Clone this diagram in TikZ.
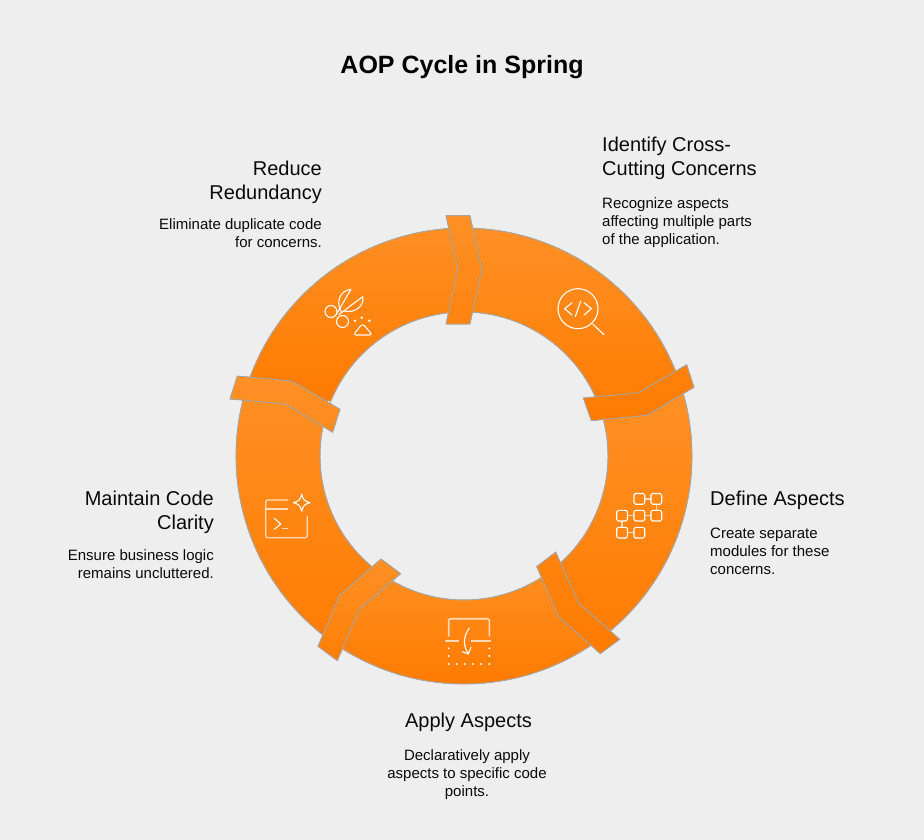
\documentclass[tikz,border=0pt]{standalone}
\usepackage{fontspec}
\setmainfont{Liberation Sans}
\definecolor{bgc}{HTML}{EEEEEE}
\definecolor{segtop}{HTML}{FF9026}
\definecolor{segbot}{HTML}{FF7B00}
\definecolor{edgec}{HTML}{A8A8A8}
\definecolor{inkc}{HTML}{0A0A0A}
\tikzset{
  edgeline/.style={draw=edgec,line width=0.9pt,line join=miter},
  icon/.style={draw=white,line width=1.1pt,line cap=round,line join=round},
  softicon/.style={draw=white,draw opacity=.7,line width=1.6pt,line join=round},
  heading/.style={inner sep=0pt,text=inkc,font=\fontsize{20}{24}\selectfont},
  bodytext/.style={inner sep=0pt,text=inkc,font=\fontsize{15}{18}\selectfont},
}
\newcommand{\gradpath}[3]{%
  \begin{scope}\clip #3;
    \fill[top color=segtop,bottom color=segbot] (0,#1) rectangle (924,#2);
  \end{scope}
  \draw[edgeline] #3;}
\newcommand{\sector}[4]{%
  \gradpath{#3}{#4}{([shift={(#1:228)}]464,456) arc[start angle=#1,end angle=#2,radius=228]
    -- ([shift={(#2:144)}]464,456) arc[start angle=#2,end angle=#1,radius=144] -- cycle}}
\newcommand{\modbox}[2]{\draw[icon,rounded corners=1.5pt] (#1,#2) rectangle ++(10.7,10.7);}
\begin{document}
\begin{tikzpicture}[x=1pt,y=-1pt]
\useasboundingbox (0,0) rectangle (924,840);
\fill[bgc] (0,0) rectangle (924,840);
% ring
\sector{-90}{-18}{228}{421}
\sector{-18}{54}{392}{654}
\sector{54}{126}{559}{684}
\sector{126}{198}{376}{660}
\sector{198}{270}{215}{400}
% connectors
\gradpath{228}{421}{(583.3,398) -- (638.7,392.7) -- (686.7,364.7) -- (694,387.3) -- (646.7,415.3) -- (591.3,420.7) -- cycle}
\gradpath{392}{654}{(555.7,552) -- (578.3,602.7) -- (619.7,639.3) -- (600.3,653.7) -- (558.7,616.7) -- (536.7,566.7) -- cycle}
\gradpath{559}{684}{(381,559) -- (400.7,573.7) -- (359.7,608.7) -- (337.3,660.7) -- (318,646.3) -- (339.3,595.7) -- cycle}
\gradpath{376}{660}{(237.3,376) -- (292,381) -- (340,409.3) -- (332.7,432.3) -- (285.3,404) -- (230,399) -- cycle}
\gradpath{215}{400}{(446,215.7) -- (470,215.7) -- (481.7,270) -- (470,324) -- (446,324) -- (457.7,270) -- cycle}
% icon: code magnifier
\draw[icon] (578,308.7) circle (20);
\draw[icon] (592.7,324) -- (604,334.7);
\draw[icon] (572,302.7) -- (564.7,308.7) -- (572,315);
\draw[icon] (584,302.7) -- (591.3,308.7) -- (584,315);
\draw[icon] (580.7,301) -- (575.3,316.7);
% icon: scissors
\draw[icon] (331,311.5) circle (6);
\draw[icon] (342.5,321.5) circle (6);
\draw[icon] (335.7,315.5) -- (351,289.3) .. controls (341,290) and (335,301) .. (341.3,311.7);
\draw[icon] (339,314.5) -- (362.7,296.7) .. controls (365,305) and (355,314) .. (344,311);
\fill[white] (355,320.7) circle (1.4) (361.7,317.7) circle (1.4) (369.3,320.7) circle (1.4);
\draw[icon,rounded corners=3pt] (362.5,323.5) -- (372.5,335) -- (353.2,335) -- cycle;
% icon: terminal with star
\draw[softicon,line width=1.3pt,rounded corners=2pt] (288.3,500) -- (265.7,500) -- (265.7,537.7) -- (307.3,537.7) -- (307.3,515.7);
\draw[softicon,line width=1.3pt] (265.7,509) -- (288.3,509);
\draw[icon] (274.3,518.3) -- (280.7,524) -- (274.3,529.3);
\draw[softicon,line width=1.3pt] (282.3,528.7) -- (288.3,528.7);
\draw[icon] (301.7,494.2) .. controls (302.8,499.5) and (305,501.6) .. (310,502.7)
  .. controls (305,503.8) and (302.8,506) .. (301.7,511.2)
  .. controls (300.6,506) and (298.4,503.8) .. (293.4,502.7)
  .. controls (298.4,501.6) and (300.6,499.5) .. (301.7,494.2) -- cycle;
% icon: apply
\draw[softicon,rounded corners=2pt] (448.7,636.7) -- (448.7,618.7) -- (489.3,618.7) -- (489.3,636.7);
\draw[softicon] (445,640.7) -- (459,640.7) (471,640.7) -- (491,640.7);
\foreach \dy in {648.3,656,664} {\fill[white] (448.7,\dy) circle (1.1) (489.3,\dy) circle (1.1);}
\foreach \dx in {456.7,464.7,473,481} {\fill[white] (\dx,664) circle (1.1);}
\draw[icon] (469.3,628.3) .. controls (463,636) and (463,646) .. (468.3,653.6);
\draw[icon] (462.3,651.7) -- (468.3,654) -- (471,647.3);
% icon: modules
\modbox{634}{493.5}\modbox{651}{493.5}
\modbox{616.7}{510.3}\modbox{634}{510.3}\modbox{651}{510.3}
\modbox{616.7}{527.3}\modbox{634}{527.3}
\draw[softicon] (644.7,498.8) -- (651,498.8) (656.3,504.2) -- (656.3,510.3)
  (627.4,515.6) -- (634,515.6) (644.7,515.6) -- (651,515.6)
  (622,521) -- (622,527.3) (627.4,532.6) -- (634,532.6);
% texts
\node[font=\fontsize{25}{29}\selectfont\bfseries,text=black,inner sep=0pt] (title) at (462,67.5) {AOP Cycle in Spring};
\node[heading,anchor=west,align=left] (h1) at (602,158) {Identify Cross-\\Cutting Concerns};
\node[bodytext,anchor=west,align=left] (b1) at (602,223) {Recognize aspects\\affecting multiple parts\\of the application.};
\node[heading,anchor=west,align=left] (h2) at (710,500) {Define Aspects};
\node[bodytext,anchor=west,align=left] (b2) at (710,551) {Create separate\\modules for these\\concerns.};
\node[heading,align=center] (h3) at (468.5,722) {Apply Aspects};
\node[bodytext,align=center] (b3) at (467,775) {Declaratively apply\\aspects to specific code\\points.};
\node[heading,anchor=east,align=right] (h4) at (214,512) {Maintain Code\\Clarity};
\node[bodytext,anchor=east,align=right] (b4) at (214,564) {Ensure business logic\\remains uncluttered.};
\node[heading,anchor=east,align=right] (h5) at (322,182) {Reduce\\Redundancy};
\node[bodytext,anchor=east,align=right] (b5) at (322,233) {Eliminate duplicate code\\for concerns.};
\end{tikzpicture}
\end{document}
